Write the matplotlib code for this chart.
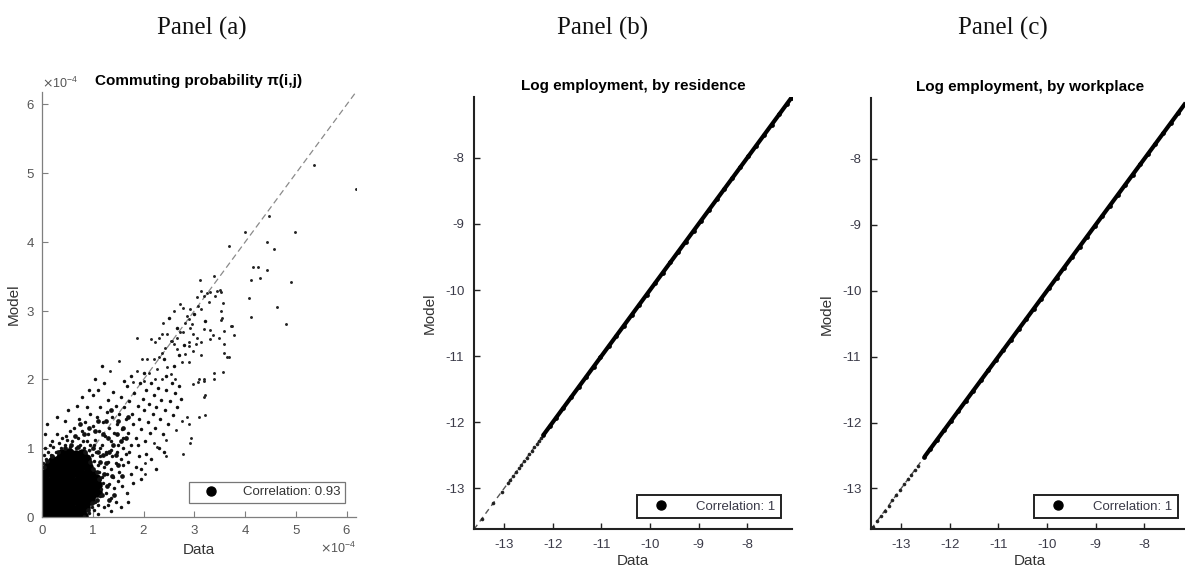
import numpy as np
import matplotlib
matplotlib.use("Agg")
import matplotlib.pyplot as plt
from matplotlib.lines import Line2D
from matplotlib.ticker import ScalarFormatter

plt.rcParams['font.family'] = ['Liberation Sans', 'DejaVu Sans']
plt.rcParams['axes.unicode_minus'] = False

# ---------------- data ----------------
panel_headers = ["Panel (a)", "Panel (b)", "Panel (c)"]
titles = ["Commuting probability \u03c0(i,j)", "Log employment, by residence",
          "Log employment, by workplace"]
corr_labels = ["Correlation: 0.93", "Correlation: 1", "Correlation: 1"]
scale_a = 1e-4
ticks_a = [0, 1, 2, 3, 4, 5, 6]
ticks_log = [-13, -12, -11, -10, -9, -8]

# Panel (a): commuting probability (data, model), units of 1e-4
commute_core = [
    (0.03, 0.03), (0.16, 0.04), (0.29, 0.02), (0.42, 0.05), (0.56, 0.03), (0.69, 0.04), (0.80, 0.02),
    (0.05, 0.13), (0.18, 0.11), (0.31, 0.14), (0.44, 0.12), (0.58, 0.13), (0.71, 0.11), (0.84, 0.14),
    (0.04, 0.22), (0.17, 0.24), (0.30, 0.21), (0.43, 0.23), (0.55, 0.22), (0.68, 0.24), (0.81, 0.21), (0.94, 0.25),
    (0.06, 0.33), (0.19, 0.31), (0.32, 0.34), (0.45, 0.32), (0.58, 0.33), (0.71, 0.31), (0.84, 0.34), (0.97, 0.32), (1.08, 0.36),
    (0.05, 0.42), (0.18, 0.44), (0.31, 0.41), (0.44, 0.43), (0.57, 0.42), (0.70, 0.44), (0.83, 0.41), (0.96, 0.43), (1.09, 0.46),
    (0.04, 0.53), (0.17, 0.51), (0.30, 0.54), (0.43, 0.52), (0.56, 0.53), (0.69, 0.51), (0.82, 0.54), (0.95, 0.52), (1.07, 0.55),
    (0.06, 0.62), (0.19, 0.64), (0.32, 0.61), (0.45, 0.63), (0.58, 0.62), (0.71, 0.64), (0.84, 0.61), (0.97, 0.64),
    (0.12, 0.72), (0.25, 0.74), (0.38, 0.71), (0.51, 0.73), (0.64, 0.72), (0.77, 0.74), (0.90, 0.72),
    (0.22, 0.82), (0.35, 0.84), (0.48, 0.81), (0.61, 0.83), (0.74, 0.82), (0.86, 0.84),
    (0.40, 0.91), (0.53, 0.93), (0.66, 0.90), (0.79, 0.92),
]
commute_ring = [
    (1.00, 1.00), (1.10, 0.95), (1.15, 0.80), (1.20, 0.90), (1.25, 0.78), (1.12, 0.55), (1.22, 0.62),
    (1.28, 0.45), (1.18, 0.32), (1.08, 0.25), (0.98, 0.20), (0.90, 0.10), (1.00, 0.70), (1.08, 0.65),
    (0.95, 0.80), (0.85, 0.95), (0.70, 1.02), (0.58, 1.05), (0.45, 1.00), (0.32, 0.95), (0.20, 0.88),
    (0.10, 0.82), (0.03, 0.72), (1.32, 0.95), (1.40, 1.05), (1.30, 1.15), (1.45, 0.90), (1.50, 0.75),
    (1.38, 0.60), (1.55, 1.10), (1.20, 1.20), (1.05, 1.25), (0.92, 1.30), (0.75, 1.35), (1.10, 1.40),
    (1.25, 1.40), (1.35, 1.55), (1.50, 1.40), (1.60, 1.30), (1.65, 1.15), (1.48, 1.20), (0.82, 1.20),
    (0.65, 1.18), (1.70, 1.45), (1.58, 0.60), (1.42, 0.32), (1.32, 0.25),
]
commute_cloud = [
    (0.02, 0.78), (0.03, 0.90), (0.05, 1.00), (0.08, 0.85), (0.12, 0.95), (0.18, 0.90), (0.22, 1.02),
    (0.28, 0.95), (0.33, 1.08), (0.38, 1.00), (0.45, 1.05), (0.50, 1.12), (0.55, 1.02), (0.60, 1.10),
    (0.66, 1.00), (0.70, 1.15), (0.75, 1.05), (0.82, 1.00), (0.88, 1.10), (0.92, 0.98), (0.98, 0.90),
    (1.02, 0.82), (1.06, 0.95), (1.10, 0.75), (1.12, 0.65), (1.15, 0.88), (1.18, 0.58), (1.20, 0.50),
    (1.22, 0.72), (1.16, 0.40), (1.14, 0.30), (1.05, 0.22), (0.98, 0.14), (0.92, 0.06), (0.82, 0.02),
    (1.02, 0.10), (1.10, 0.18), (1.25, 0.35), (1.28, 0.62), (1.30, 0.80), (1.26, 0.95), (1.32, 0.48),
    (1.36, 0.70), (1.40, 0.58), (1.38, 0.88), (1.45, 0.78), (1.48, 0.95), (1.52, 0.66), (1.55, 0.85),
    (1.60, 0.75), (1.65, 0.92), (1.70, 0.80), (1.42, 0.42), (1.50, 0.52), (1.58, 0.45), (1.36, 0.28),
    (1.30, 0.18), (1.67, 0.35), (1.80, 0.49), (1.75, 0.62), (1.85, 0.72), (1.90, 0.88), (1.95, 0.70),
    (2.05, 0.92), (1.22, 0.15), (1.45, 0.22),
    (0.62, 1.30), (0.72, 1.42), (0.78, 1.25), (0.85, 1.38), (0.90, 1.20), (0.95, 1.50), (1.00, 1.32),
    (1.00, 1.77), (1.05, 1.12), (1.08, 1.45), (1.12, 1.25), (1.15, 1.60), (1.18, 1.05), (1.20, 1.38),
    (1.24, 1.18), (1.28, 1.52), (1.30, 1.70), (1.32, 1.30), (1.35, 1.10), (1.38, 1.45), (1.40, 1.82),
    (1.42, 1.22), (1.45, 1.62), (1.48, 1.35), (1.50, 1.05), (1.52, 1.50), (1.55, 1.75), (1.57, 1.28),
    (1.60, 1.15), (1.62, 1.60), (1.65, 1.42), (1.68, 1.90), (1.70, 1.22), (1.72, 1.68), (1.75, 1.05),
    (1.78, 1.50), (1.80, 1.35), (1.82, 1.80), (1.85, 1.15), (1.88, 1.62), (1.90, 1.42), (1.92, 1.95),
    (1.95, 1.28), (1.98, 1.72), (2.00, 1.55), (2.02, 1.10), (2.05, 1.85), (2.08, 1.38), (2.10, 1.65),
    (2.12, 1.22), (2.15, 1.95), (2.18, 1.50), (2.20, 1.78), (2.22, 1.30), (2.25, 1.60), (2.28, 1.88),
    (2.32, 1.42), (2.35, 1.70), (2.38, 1.20), (2.42, 1.55), (2.45, 1.85), (2.48, 1.35), (2.52, 1.68),
    (2.55, 1.95), (2.58, 1.48), (2.62, 1.80), (2.66, 1.60), (2.70, 1.90), (2.74, 1.72), (1.25, 0.92),
    (1.35, 0.98), (1.60, 1.00), (1.72, 0.95), (1.88, 1.05), (0.88, 1.60), (1.10, 1.85), (1.22, 1.95),
    (0.55, 1.25), (0.48, 1.18), (0.40, 1.15), (0.30, 1.20), (0.20, 1.10), (0.15, 1.05), (0.45, 1.40),
    (1.02, 1.05), (1.15, 1.00), (0.95, 1.05), (0.80, 1.10),
    (0.05, 1.20), (0.10, 1.35), (0.30, 1.45), (0.52, 1.55), (0.68, 1.62), (0.78, 1.75), (0.92, 1.85),
    (1.05, 2.00), (1.18, 2.20), (2.30, 1.00), (2.40, 0.95), (2.15, 0.85), (2.25, 0.70), (1.95, 0.55),
    (1.70, 0.22), (1.55, 0.15), (1.35, 0.08), (1.10, 0.05), (2.45, 2.05), (2.60, 2.20), (2.70, 2.35),
    (2.80, 2.50), (2.00, 2.10), (1.75, 2.05), (1.62, 1.98), (2.40, 2.30), (2.65, 2.75), (2.50, 2.90),
    (3.00, 2.95), (3.20, 2.85),
]
commute_outer = [
    (5.35, 5.12), (6.18, 4.77), (4.98, 4.14), (4.56, 3.89), (4.43, 4.00), (4.47, 4.37), (4.00, 4.14),
    (3.69, 3.94), (4.16, 3.63), (4.25, 3.63), (4.42, 3.59), (4.30, 3.48), (4.11, 3.44), (4.90, 3.41),
    (4.07, 3.19), (3.10, 3.45), (3.39, 3.51), (3.44, 3.29), (3.51, 3.30), (3.31, 3.27), (3.12, 3.29),
    (4.62, 3.05), (4.81, 2.80), (4.11, 2.91), (3.74, 2.78), (3.77, 2.65), (3.68, 2.32), (3.56, 2.11),
    (3.38, 2.00), (3.19, 2.00), (3.09, 2.00), (3.19, 1.74), (3.21, 1.48), (3.09, 1.45), (2.93, 1.15),
    (2.92, 1.07), (2.78, 0.91), (2.45, 0.89), (2.89, 1.35), (2.76, 1.40), (2.86, 1.45), (2.63, 1.26),
    (2.45, 1.12), (2.21, 1.07), (2.26, 1.02), (2.03, 0.63), (2.03, 0.78), (1.67, 0.35), (1.51, 2.27),
    (1.34, 2.13), (1.87, 2.61), (3.52, 3.27), (3.41, 3.22), (3.25, 3.25), (3.18, 3.22), (3.06, 3.20),
    (2.72, 3.10), (2.78, 3.04), (2.92, 3.02), (3.07, 3.07), (3.12, 3.02), (3.28, 3.12), (3.57, 3.11),
    (3.52, 3.00), (3.54, 2.89), (2.60, 2.99), (2.85, 2.93), (2.89, 2.88), (2.95, 2.81), (2.82, 2.82),
    (2.39, 2.82), (3.52, 2.87), (3.72, 2.78), (3.18, 2.73), (3.30, 2.72), (3.37, 2.64), (3.30, 2.59),
    (3.48, 2.61), (3.58, 2.71), (2.71, 2.69), (2.78, 2.69), (2.92, 2.75), (2.98, 2.66), (3.05, 2.61),
    (2.89, 2.54), (3.04, 2.52), (3.12, 2.54), (2.66, 2.61), (2.56, 2.56), (2.46, 2.66), (2.36, 2.66),
    (2.30, 2.61), (2.15, 2.59), (2.23, 2.54), (3.58, 2.51), (3.58, 2.39), (3.64, 2.32), (3.38, 2.10),
    (3.18, 1.98), (3.08, 1.96), (2.98, 1.94), (3.21, 1.77), (3.12, 2.35), (2.98, 2.42), (2.89, 2.49),
    (2.82, 2.37), (2.76, 2.25), (2.89, 2.25), (2.66, 2.44), (2.59, 2.52), (2.53, 2.56), (2.43, 2.46),
    (2.36, 2.39), (2.30, 2.32), (2.20, 2.30), (2.07, 2.30), (1.97, 2.30), (1.87, 2.13), (2.10, 2.10),
    (2.26, 2.15), (2.46, 2.18), (2.53, 2.08), (2.62, 2.01), (2.36, 2.01), (2.23, 2.01), (2.00, 1.98),
    (1.80, 1.96),
]

# Panel (b): log employment by residence (data = model)
resid_dense = [-12.20, -12.06, -11.93, -11.78, -11.62, -11.47, -11.31, -11.16, -11.02, -10.85,
               -10.70, -10.54, -10.38, -10.22, -10.07, -9.90, -9.74, -9.58, -9.43, -9.27,
               -9.10, -8.95, -8.79, -8.62, -8.47, -8.31, -8.14, -7.98, -7.82, -7.66,
               -7.50, -7.34, -7.19, -7.09]
resid_sparse = [-13.46, -13.22, -13.05, -12.92, -12.87, -12.81, -12.76, -12.70, -12.65, -12.59,
                -12.54, -12.48, -12.43, -12.38, -12.33, -12.28, -12.24]
# Panel (c): log employment by workplace (data = model)
work_dense = [-12.52, -12.40, -12.27, -12.12, -11.98, -11.83, -11.67, -11.52, -11.36, -11.21,
              -11.05, -10.90, -10.74, -10.58, -10.43, -10.27, -10.12, -9.96, -9.80, -9.65,
              -9.49, -9.33, -9.18, -9.02, -8.86, -8.71, -8.55, -8.39, -8.24, -8.08,
              -7.92, -7.77, -7.61, -7.45, -7.30, -7.15]
work_sparse = [-13.58, -13.50, -13.42, -13.34, -13.26, -13.18, -13.10, -13.02, -12.94, -12.86,
               -12.79, -12.72, -12.66]

lim_a = 6.18
lim_log = (-13.62, -7.08)

# ---------------- figure ----------------
fig = plt.figure(figsize=(11.85, 5.77), dpi=100)
W, H = 1185, 577


def axes_px(left, top, right, bottom):
    return fig.add_axes([left / W, 1 - bottom / H, (right - left) / W, (bottom - top) / H])


ax_a = axes_px(42, 92, 356, 517)
ax_b = axes_px(474, 97, 792, 529.3)
ax_c = axes_px(871, 98.3, 1189, 529.3)

# headers
for x, txt in zip([202, 603, 1003], panel_headers):
    fig.text(x / W, 1 - 28 / H, txt, ha='center', va='center',
             family='Liberation Serif', fontsize=18, color='#111111')

# ---- Panel (a) ----
gray_a = '#7f7f7f'
ax_a.plot([0, lim_a * scale_a], [0, lim_a * scale_a], ls=(0, (5, 3)), color='#8a8a8a', lw=0.9, zorder=1)
core = np.array(commute_core) * scale_a
ring = np.array(commute_ring) * scale_a
cloud = np.array(commute_cloud) * scale_a
outer = np.array(commute_outer) * scale_a
ax_a.plot(core[:, 0], core[:, 1], 'o', color='k', ms=7.6, mew=0, zorder=2)
ax_a.plot(ring[:, 0], ring[:, 1], 'o', color='#111111', ms=3.4, mew=0, zorder=2)
ax_a.plot(cloud[:, 0], cloud[:, 1], 'o', color='#111111', ms=2.5, mew=0, zorder=2)
ax_a.plot(outer[:, 0], outer[:, 1], 'o', color='#222222', ms=2.1, mew=0, zorder=2)
ax_a.set_xlim(0, lim_a * scale_a)
ax_a.set_ylim(0, lim_a * scale_a)
ax_a.set_xticks([t * scale_a for t in ticks_a])
ax_a.set_yticks([t * scale_a for t in ticks_a])
for axis in (ax_a.xaxis, ax_a.yaxis):
    fmt = ScalarFormatter(useMathText=True)
    fmt.set_powerlimits((0, 0))
    axis.set_major_formatter(fmt)
ax_a.xaxis.get_offset_text().set_color('#666666')
ax_a.yaxis.get_offset_text().set_color('#666666')
ax_a.xaxis.get_offset_text().set_fontsize(9)
ax_a.yaxis.get_offset_text().set_fontsize(9)
ax_a.set_title(titles[0], fontsize=11, fontweight='bold', pad=5)
ax_a.set_xlabel("Data", fontsize=11, color='#333333', labelpad=4)
ax_a.set_ylabel("Model", fontsize=11, color='#333333', labelpad=4)
for s in ['top', 'right']:
    ax_a.spines[s].set_visible(False)
for s in ['left', 'bottom']:
    ax_a.spines[s].set_color(gray_a)
    ax_a.spines[s].set_linewidth(0.9)
ax_a.tick_params(direction='in', length=4, width=0.8, color=gray_a, labelsize=9.5,
                 labelcolor='#555555', pad=5)
h = Line2D([], [], marker='o', color='k', ls='', ms=6.5)
leg = ax_a.legend([h], [corr_labels[0]], loc='lower right', bbox_to_anchor=(0.965, 0.033),
                  borderaxespad=0, fontsize=9.5, handlelength=2.6, handletextpad=1.1,
                  borderpad=0.35, fancybox=False, framealpha=1)
leg.get_frame().set_edgecolor('#777777')
leg.get_frame().set_linewidth(0.9)
for t in leg.get_texts():
    t.set_color('#333333')


# ---- Panels (b), (c) ----
def log_panel(ax, dense, sparse, title, label):
    ax.plot(list(lim_log), list(lim_log), ls=(0, (4, 3)), color='#555555', lw=1.0, zorder=1)
    ax.plot(sparse, sparse, 'o', color='#222222', ms=2.6, mew=0, zorder=2)
    ax.plot(dense, dense, '-', color='k', lw=3.0, marker='o', ms=2.4, zorder=3,
            solid_capstyle='butt')
    ax.set_xlim(*lim_log)
    ax.set_ylim(*lim_log)
    ax.set_xticks(ticks_log)
    ax.set_yticks(ticks_log)
    ax.set_title(title, fontsize=11, fontweight='bold', pad=5)
    ax.set_xlabel("Data", fontsize=11, color='#333333', labelpad=2)
    ax.set_ylabel("Model", fontsize=11, color='#333333', labelpad=6)
    for s in ['top', 'right']:
        ax.spines[s].set_visible(False)
    for s in ['left', 'bottom']:
        ax.spines[s].set_color('#222222')
        ax.spines[s].set_linewidth(1.5)
    ax.tick_params(direction='in', length=4, width=1.0, color='#222222', labelsize=9.5,
                   labelcolor='#3a3a48', pad=7)
    hh = Line2D([], [], marker='o', color='k', ls='', ms=6.5)
    lg = ax.legend([hh], [label], loc='lower right', bbox_to_anchor=(0.965, 0.026),
                   borderaxespad=0, fontsize=9.5, handlelength=2.8, handletextpad=1.3,
                   borderpad=0.4, fancybox=False, framealpha=1)
    lg.get_frame().set_edgecolor('#222222')
    lg.get_frame().set_linewidth(1.4)
    for t in lg.get_texts():
        t.set_color('#3a3a48')


log_panel(ax_b, resid_dense, resid_sparse, titles[1], corr_labels[1])
log_panel(ax_c, work_dense, work_sparse, titles[2], corr_labels[2])

fig.savefig("out.png", dpi=100)
